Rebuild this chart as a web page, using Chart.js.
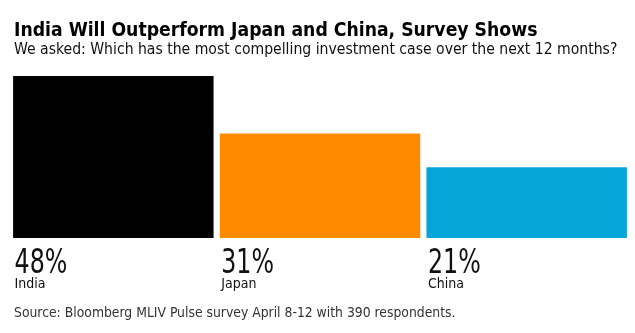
<!DOCTYPE html>
<html>
<head>
<meta charset="utf-8">
<script src="https://cdn.jsdelivr.net/npm/chart.js@4"></script>
<style>
	html, body { margin: 0; padding: 0; background: #fff; }
	#wrap { width: 635px; height: 333px; position: relative; }
</style>
</head>
<body>
<div id="wrap"><canvas id="chart"></canvas></div>
<script>
// Survey results — share of respondents picking each market
const categories = ["India", "Japan", "China"];
const shares = [48, 31, 21];
const barColors = ["#000000", "#ff8a00", "#05a5d7"];

const titleText = "India Will Outperform Japan and China, Survey Shows";
const subtitleText = "We asked: Which has the most compelling investment case over the next 12 months?";
const sourceText = "Source: Bloomberg MLIV Pulse survey April 8-12 with 390 respondents.";

const FONT = "'DejaVu Sans Condensed', 'Liberation Sans Narrow', 'DejaVu Sans', sans-serif";

// draws headline, value labels under each bar and the source line
const textPlugin = {
	id: "texts",
	afterDraw(chart) {
		const ctx = chart.ctx;
		const meta = chart.getDatasetMeta(0);
		ctx.save();
		ctx.textBaseline = "alphabetic";
		ctx.textAlign = "left";

		ctx.fillStyle = "#000";
		ctx.font = "bold 19.2px " + FONT;
		ctx.fillText(titleText, 14, 36);

		ctx.fillStyle = "#111";
		ctx.font = "15.6px " + FONT;
		ctx.fillText(subtitleText, 14, 54);

		meta.data.forEach((bar, i) => {
			const left = bar.x - bar.width / 2 + 1.5;
			ctx.fillStyle = "#111";
			// big figures are narrow in the original, squeeze them horizontally
			ctx.save();
			ctx.translate(left, 273);
			ctx.scale(0.8, 1);
			ctx.font = "33px " + FONT;
			ctx.fillText(shares[i] + "%", 0, 0);
			ctx.restore();
			ctx.font = "14px " + FONT;
			ctx.fillText(categories[i], left, 288);
		});

		ctx.fillStyle = "#333";
		ctx.font = "13.8px " + FONT;
		ctx.fillText(sourceText, 14, 317);
		ctx.restore();
	},
};

new Chart(document.getElementById("chart"), {
	type: "bar",
	data: {
		labels: categories,
		datasets: [
			{
				data: shares,
				backgroundColor: barColors,
				borderWidth: 0,
				barPercentage: 1,
				categoryPercentage: 0.97,
			},
		],
	},
	options: {
		responsive: true,
		maintainAspectRatio: false,
		animation: false,
		layout: { padding: { left: 10, right: 5, top: 76, bottom: 95 } },
		scales: {
			x: { display: false },
			y: { display: false, min: 0, max: 48 },
		},
		plugins: {
			legend: { display: false },
			tooltip: { enabled: false },
		},
	},
	plugins: [textPlugin],
});
</script>
</body>
</html>
